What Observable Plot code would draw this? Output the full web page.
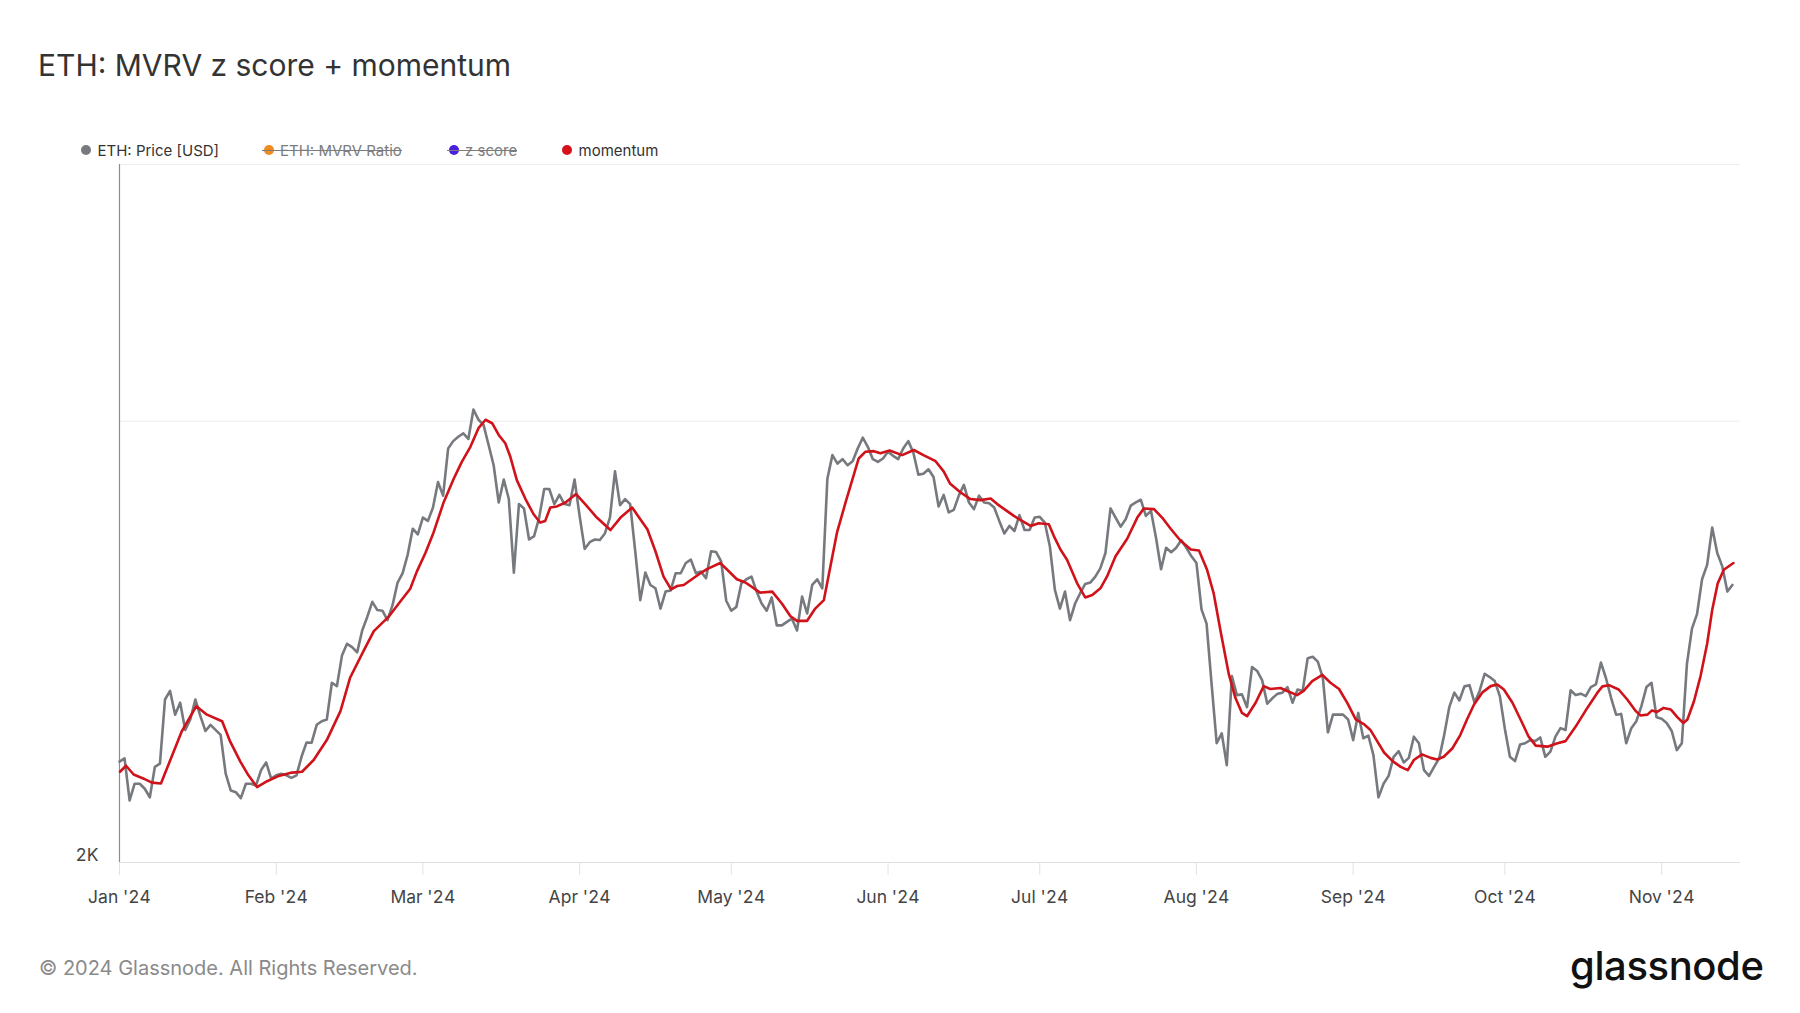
<!DOCTYPE html>
<html>
<head>
<meta charset="utf-8">
<script src="https://cdn.jsdelivr.net/npm/d3@7"></script>
<script src="https://cdn.jsdelivr.net/npm/@observablehq/plot@0.6"></script>
<style>
html,body{margin:0;padding:0;background:#fff;}
body{width:1800px;height:1013px;position:relative;overflow:hidden;font-family:Inter,"Noto Sans",sans-serif;}
.t{position:absolute;line-height:1;white-space:nowrap;z-index:2;}
#title{left:38px;top:50px;font-size:30px;color:#333;}
#legend{position:absolute;left:0;top:0;z-index:3;}
.leg{position:absolute;top:142.5px;height:15px;display:flex;align-items:center;font-size:15px;line-height:1;color:#333;white-space:nowrap;}
.leg .dot{width:10px;height:10px;border-radius:50%;margin-right:6.5px;flex:none;}
.leg.off{color:#7c7c7c;}
.leg.off .strike{position:absolute;left:-2px;right:0;top:7.5px;height:1px;background:#7c7c7c;}
#chart{position:absolute;left:0;top:155px;z-index:1;}
#copy{left:39px;top:958px;font-size:20px;color:#8a8a8a;}
#logo{left:1570px;top:945.5px;font-size:40px;font-weight:500;color:#111;letter-spacing:-0.4px;}
</style>
</head>
<body>
<div id="title" class="t"></div>
<div id="chart"></div>
<div id="legend"></div>
<div id="copy" class="t"></div>
<div id="logo" class="t"></div>
<script>
// ---- text ----
const titleText = "ETH: MVRV z score + momentum";
const legendLabels = ["ETH: Price [USD]", "ETH: MVRV Ratio", "z score", "momentum"];
const legendColors = ["#76797e", "#f28a1c", "#4b1fe0", "#d8101a"];
const legendActive = [true, false, false, true];
const legendLeft = [81, 263.5, 448.5, 562];
const copyText = "© 2024 Glassnode. All Rights Reserved.";
const logoText = "glassnode";
const monthLabels = ["Jan '24","Feb '24","Mar '24","Apr '24","May '24","Jun '24","Jul '24","Aug '24","Sep '24","Oct '24","Nov '24"];
const yTicks = [2000, 4000, 6000];
const yTickLabels = ["2K", "", ""];

// ---- data: ETH daily price, 2024-01-01 .. 2024-11-15 ----
const startDate = "2024-01-01";
const priceValues = [
2336,2348,2197,2256,2256,2238,2208,2317,2329,2577,2612,2516,2564,2456,2497,2577,2510,2452,2476,2456,
2437,2292,2232,2226,2205,2256,2256,2250,2305,2333,2274,2286,2292,2286,2277,2286,2354,2408,2407,2476,
2490,2497,2646,2632,2762,2814,2799,2776,2874,2936,3007,2968,2965,2921,2991,3100,3146,3240,3375,3345,
3435,3417,3490,3633,3556,3831,3876,3903,3924,3889,4074,4009,3977,3852,3731,3518,3648,3537,3149,3509,
3485,3318,3336,3435,3594,3594,3509,3560,3509,3503,3648,3444,3269,3304,3318,3315,3350,3435,3695,3503,
3537,3509,3257,3015,3149,3088,3072,2975,3056,3061,3146,3146,3197,3214,3146,3154,3121,3257,3253,3205,
3012,2965,2983,3096,3116,3129,3056,2999,2965,3028,2897,2897,2913,2928,2874,3032,2952,3088,3116,3072,
3652,3791,3741,3767,3731,3755,3831,3897,3841,3767,3751,3771,3811,3787,3767,3831,3876,3807,3676,3681,
3707,3662,3496,3560,3463,3477,3556,3617,3518,3481,3556,3518,3514,3490,3417,3350,3390,3363,3448,3368,
3368,3435,3439,3408,3283,3064,2975,3056,2921,2999,3048,3093,3100,3129,3171,3248,3485,3435,3386,3426,
3500,3518,3533,3444,3472,3327,3166,3275,3252,3275,3315,3275,3231,3197,2971,2905,2639,2405,2443,2323,
2674,2595,2598,2546,2713,2696,2656,2560,2582,2600,2605,2628,2564,2618,2612,2751,2757,2736,2667,2447,
2516,2516,2516,2497,2417,2523,2424,2434,2360,2208,2256,2284,2354,2375,2333,2350,2430,2405,2305,2284,
2317,2348,2437,2546,2605,2573,2631,2636,2564,2612,2684,2670,2653,2591,2460,2354,2338,2400,2405,2417,
2413,2427,2354,2373,2430,2463,2456,2615,2595,2601,2591,2628,2639,2732,2665,2584,2516,2519,2405,2463,
2490,2550,2628,2646,2506,2500,2483,2452,2379,2405,2725,2882,2949,3116,3188,3381,3248,3180,3056,3088
];

// ---- data: momentum (days after 2024-01-01, value in USD) ----
const momentumDays = [
0.1,1.3,2.8,4.8,6.4,8.2,12.3,15.2,17.3,20.3,21.9,23.9,25.5,27.2,29.2,31.5,34.1,36.1,38.4,41.0,
43.7,45.6,48.3,50.3,53.2,55.5,57.5,58.8,60.5,62.1,64.1,66.1,67.7,69.4,71.0,72.4,73.7,75.0,76.3,77.3,
78.6,80.3,81.9,83.2,84.2,85.2,86.5,88.2,90.3,92.1,94.4,97.1,99.1,101.4,103.0,104.4,106.0,107.6,109.1,110.3,
111.6,113.2,114.9,116.2,118.8,120.2,122.1,123.8,126.7,129.1,131.0,132.7,134.0,136.0,137.6,139.3,140.6,141.9,143.6,144.9,
146.2,147.5,149.2,150.5,152.3,154.8,157.1,159.0,161.4,163.0,164.3,166.3,168.3,170.3,172.3,173.6,175.2,176.9,178.5,180.2,
181.8,183.8,184.8,186.1,187.4,189.4,191.0,192.4,194.0,195.3,197.0,199.3,201.3,202.6,204.6,206.2,207.9,209.9,211.9,213.5,
215.1,216.4,217.8,219.4,220.7,222.0,223.0,224.7,226.3,227.6,229.6,231.3,232.9,234.2,235.9,237.9,239.5,241.2,242.8,244.5,
246.1,247.4,248.8,250.1,251.8,253.4,254.8,256.0,257.6,259.3,260.6,261.9,263.6,265.2,266.5,267.9,269.5,271.2,272.5,273.8,
275.5,277.1,278.7,280.1,282.4,284.4,286.0,288.0,290.3,292.3,293.3,294.6,296.5,298.2,299.9,300.8,302.2,303.1,304.1,305.4,
306.8,308.1,309.3,310.1,311.4,312.7,314.0,315.0,316.1,317.3,319.2
];
const momentumValues = [
2299,2321,2289,2274,2260,2257,2450,2550,2516,2490,2411,2336,2286,2244,2265,2284,2296,2299,2342,2417,
2530,2667,2784,2871,2936,3007,3070,3154,3248,3354,3518,3652,3751,3841,3956,4009,3987,3914,3863,3781,
3643,3537,3453,3408,3417,3490,3496,3518,3565,3509,3435,3368,3435,3490,3426,3372,3257,3129,3067,3083,
3088,3116,3146,3166,3197,3163,3116,3100,3051,3056,2999,2939,2918,2918,2975,3015,3180,3354,3518,3643,
3771,3811,3815,3803,3819,3791,3822,3791,3755,3695,3623,3575,3537,3531,3540,3509,3477,3444,3417,3390,
3404,3399,3336,3266,3214,3096,3028,3040,3072,3129,3231,3322,3435,3485,3481,3435,3375,3310,3266,3261,
3163,3048,2867,2682,2584,2523,2510,2564,2632,2620,2624,2609,2595,2612,2653,2679,2646,2620,2564,2497,
2479,2456,2411,2370,2338,2317,2305,2342,2363,2350,2344,2354,2385,2437,2497,2557,2605,2632,2639,2618,
2564,2497,2430,2396,2392,2405,2413,2469,2543,2605,2631,2636,2618,2577,2530,2513,2516,2533,2527,2543,
2537,2506,2483,2497,2570,2674,2814,2968,3096,3163,3197
];

// ---- header / footer text ----
document.getElementById("title").textContent = titleText;
document.getElementById("copy").textContent = copyText;
document.getElementById("logo").textContent = logoText;
const legendEl = document.getElementById("legend");
legendLabels.forEach((lab, i) => {
  const item = document.createElement("div");
  item.className = "leg" + (legendActive[i] ? "" : " off");
  item.style.left = legendLeft[i] + "px";
  const dot = document.createElement("span");
  dot.className = "dot";
  dot.style.background = legendColors[i];
  const txt = document.createElement("span");
  txt.textContent = lab;
  item.appendChild(dot);
  item.appendChild(txt);
  if (!legendActive[i]) {
    const s = document.createElement("span");
    s.className = "strike";
    item.appendChild(s);
  }
  legendEl.appendChild(item);
});

// ---- chart ----
const DAY = 864e5;
const t0 = new Date(startDate + "T00:00:00Z").getTime();
const price = priceValues.map((v, i) => ({date: new Date(t0 + i * DAY), value: v}));
const momentum = momentumDays.map((d, i) => ({date: new Date(t0 + d * DAY), value: momentumValues[i]}));
const xDomain = [new Date(t0), new Date(t0 + 320.6 * DAY)];
const yDomain = [1992, 6000];
const monthTicks = d3.utcMonth.range(xDomain[0], xDomain[1]);

const chart = Plot.plot({
  width: 1800,
  height: 760,
  marginLeft: 119,
  marginRight: 60,
  marginTop: 9,
  marginBottom: 53,
  style: {fontFamily: "Inter, 'Noto Sans', sans-serif", fontSize: "17.5px", color: "#444", background: "transparent", overflow: "visible"},
  x: {type: "utc", domain: xDomain, label: null},
  y: {type: "log", domain: yDomain, label: null},
  marks: [
    Plot.ruleY(yTicks.slice(1), {stroke: "#ededed", strokeWidth: 1}),
    Plot.ruleY([yDomain[0]], {stroke: "#e0e0e0", strokeWidth: 1.2}),
    Plot.axisX(monthTicks, {
      tickSize: 13, tickPadding: 15, stroke: "#e3e3e3", fill: "#444", fontSize: 17.5, label: null,
      tickFormat: d => monthLabels[d.getUTCMonth()]
    }),
    Plot.axisY(yTicks, {
      tickSize: 0, tickPadding: 21, fill: "#444", fontSize: 17.5, dy: -5, label: null,
      tickFormat: d => yTickLabels[yTicks.indexOf(d)]
    }),
    Plot.ruleX([xDomain[0]], {stroke: "#8c8c8c", strokeWidth: 1.2}),
    Plot.line(price, {x: "date", y: "value", stroke: "#76797e", strokeWidth: 2.6}),
    Plot.line(momentum, {x: "date", y: "value", stroke: "#d0121a", strokeWidth: 2.6})
  ]
});
document.getElementById("chart").appendChild(chart);
</script>
</body>
</html>
